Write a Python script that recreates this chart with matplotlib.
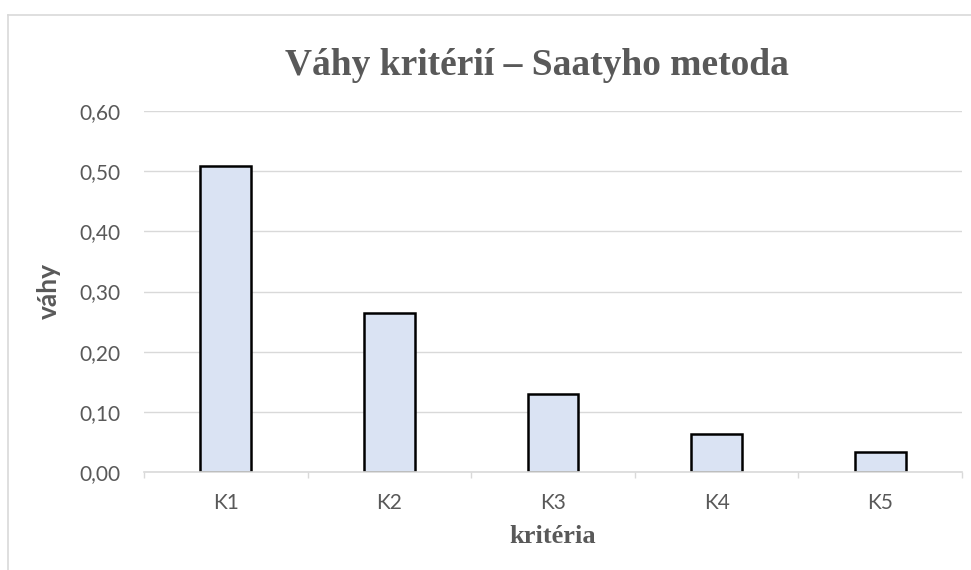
import matplotlib
matplotlib.use('Agg')
import matplotlib.pyplot as plt
from matplotlib.lines import Line2D

# data
kriteria = ['K1', 'K2', 'K3', 'K4', 'K5']
vahy = [0.509, 0.264, 0.129, 0.063, 0.033]
yticks = [0.0, 0.1, 0.2, 0.3, 0.4, 0.5, 0.6]

W, H = 971, 570
fig = plt.figure(figsize=(W / 100, H / 100), dpi=100)
ax = fig.add_axes([144 / W, (H - 472) / H, (962 - 144) / W, (472 - 111) / H])

gray = '#595959'
light = '#d9d9d9'
sans = ['Lato', 'DejaVu Sans']
serif = ['Liberation Serif', 'DejaVu Serif']

x = list(range(len(kriteria)))
ax.bar(x, vahy, width=0.31, color='#dae3f3', edgecolor='black', linewidth=1.8, zorder=2)

ax.set_xlim(-0.5, len(kriteria) - 0.5)
ax.set_ylim(0, 0.6)
ax.set_yticks(yticks)
ax.set_yticklabels([('%.2f' % v).replace('.', ',') for v in yticks], family=sans, fontsize=15, color=gray)
ax.set_xticks(x)
ax.set_xticklabels(kriteria, family=sans, fontsize=15, color=gray)
ax.set_xticks([i - 0.5 for i in range(len(kriteria) + 1)], minor=True)
ax.tick_params(axis='x', which='major', length=0, pad=15)
ax.tick_params(axis='x', which='minor', length=4.5, color=light, width=1)
ax.tick_params(axis='y', length=0, pad=17)

ax.set_axisbelow(True)
ax.grid(axis='y', color=light, linewidth=1)
for s in ['top', 'right', 'left']:
    ax.spines[s].set_visible(False)
ax.spines['bottom'].set_color(light)
ax.spines['bottom'].set_linewidth(1.2)
ax.spines['bottom'].set_zorder(3)

fig.text(537 / W, 1 - 75 / H, 'Váhy kritérií – Saatyho metoda', family=serif,
         fontsize=27, fontweight='bold', color=gray, ha='center', va='baseline')
fig.text(49 / W, 1 - 291 / H, 'váhy', family=sans, fontsize=19, fontweight='bold',
         color=gray, rotation=90, ha='center', va='center')
fig.text(553 / W, 1 - 543 / H, 'kritéria', family=serif, fontsize=19, fontweight='bold',
         color=gray, ha='center', va='baseline')

# chart area border
fig.add_artist(Line2D([8 / W, 1], [1 - 15 / H, 1 - 15 / H], color=light, linewidth=1.2))
fig.add_artist(Line2D([8 / W, 8 / W], [0, 1 - 15 / H], color=light, linewidth=1.2))

fig.savefig('out.png', dpi=100)
